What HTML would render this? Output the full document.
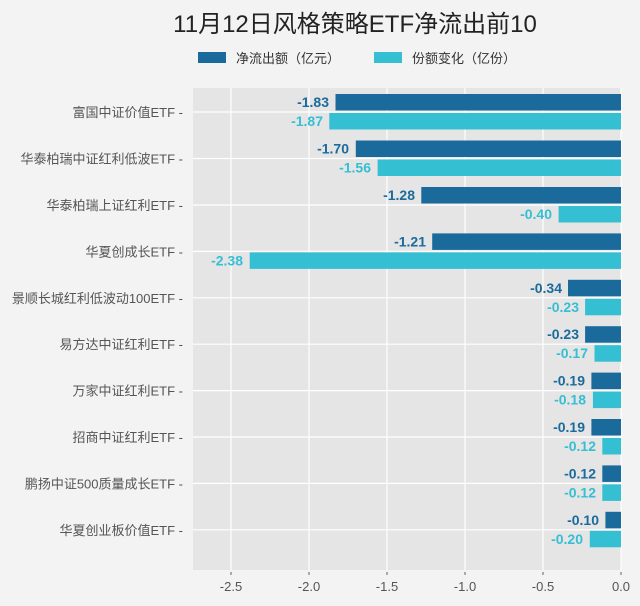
<!DOCTYPE html>
<html><head><meta charset="utf-8"><style>
body{margin:0;background:#f3f3f3;}
svg{display:block;font-family:"Liberation Sans","Noto Sans CJK SC",sans-serif;}
</style></head><body>
<svg width="640" height="606" xmlns="http://www.w3.org/2000/svg">
<rect width="640" height="606" fill="#f3f3f3"/>
<text x="355" y="32" text-anchor="middle" font-size="24" fill="#222">11月12日风格策略ETF净流出前10</text>
<rect x="198" y="52" width="28" height="11" fill="#1b6a9c"/>
<text x="236" y="63" font-size="13" fill="#333">净流出额（亿元）</text>
<rect x="374" y="52" width="28" height="11" fill="#35bfd3"/>
<text x="412" y="63" font-size="13" fill="#333">份额变化（亿份）</text>
<rect x="193" y="88" width="428" height="482" fill="#e5e5e5"/>
<g stroke="#fff" stroke-width="1.2">
<line x1="231" y1="88" x2="231" y2="570"/><line x1="309" y1="88" x2="309" y2="570"/><line x1="387" y1="88" x2="387" y2="570"/><line x1="465" y1="88" x2="465" y2="570"/><line x1="543" y1="88" x2="543" y2="570"/><line x1="621" y1="88" x2="621" y2="570"/>
<line x1="193" y1="112" x2="621" y2="112"/><line x1="193" y1="158.5" x2="621" y2="158.5"/><line x1="193" y1="205" x2="621" y2="205"/><line x1="193" y1="251.4" x2="621" y2="251.4"/><line x1="193" y1="297.8" x2="621" y2="297.8"/><line x1="193" y1="344.2" x2="621" y2="344.2"/><line x1="193" y1="390.6" x2="621" y2="390.6"/><line x1="193" y1="437" x2="621" y2="437"/><line x1="193" y1="483.4" x2="621" y2="483.4"/><line x1="193" y1="529.8" x2="621" y2="529.8"/>
</g>
<g stroke="#666" stroke-width="1">
<line x1="231" y1="572" x2="231" y2="575"/><line x1="309" y1="572" x2="309" y2="575"/><line x1="387" y1="572" x2="387" y2="575"/><line x1="465" y1="572" x2="465" y2="575"/><line x1="543" y1="572" x2="543" y2="575"/><line x1="621" y1="572" x2="621" y2="575"/>
</g>
<g font-size="13" fill="#555" text-anchor="middle">
<text x="231" y="591">-2.5</text><text x="309" y="591">-2.0</text><text x="387" y="591">-1.5</text><text x="465" y="591">-1.0</text><text x="543" y="591">-0.5</text><text x="621" y="591">0.0</text>
</g>
<g font-size="13" fill="#555" text-anchor="end">
<text x="183" y="117">富国中证价值ETF -</text>
<text x="183" y="163.5">华泰柏瑞中证红利低波ETF -</text>
<text x="183" y="210">华泰柏瑞上证红利ETF -</text>
<text x="183" y="256.4">华夏创成长ETF -</text>
<text x="183" y="302.8">景顺长城红利低波动100ETF -</text>
<text x="183" y="349.2">易方达中证红利ETF -</text>
<text x="183" y="395.6">万家中证红利ETF -</text>
<text x="183" y="442">招商中证红利ETF -</text>
<text x="183" y="488.4">鹏扬中证500质量成长ETF -</text>
<text x="183" y="534.8">华夏创业板价值ETF -</text>
</g>
<g fill="#1b6a9c">
<rect x="335.5" y="94" width="285.5" height="16.5"/>
<rect x="355.8" y="140.5" width="265.2" height="16.5"/>
<rect x="421.3" y="187" width="199.7" height="16.5"/>
<rect x="432.2" y="233.4" width="188.8" height="16.5"/>
<rect x="568" y="279.8" width="53" height="16.5"/>
<rect x="585.1" y="326.2" width="35.9" height="16.5"/>
<rect x="591.4" y="372.6" width="29.6" height="16.5"/>
<rect x="591.4" y="419" width="29.6" height="16.5"/>
<rect x="602.3" y="465.4" width="18.7" height="16.5"/>
<rect x="605.4" y="511.8" width="15.6" height="16.5"/>
</g>
<g fill="#35bfd3">
<rect x="329.3" y="113" width="291.7" height="16.5"/>
<rect x="377.6" y="159.5" width="243.4" height="16.5"/>
<rect x="558.6" y="206" width="62.4" height="16.5"/>
<rect x="249.7" y="252.4" width="371.3" height="16.5"/>
<rect x="585.1" y="298.8" width="35.9" height="16.5"/>
<rect x="594.5" y="345.2" width="26.5" height="16.5"/>
<rect x="592.9" y="391.6" width="28.1" height="16.5"/>
<rect x="602.3" y="438" width="18.7" height="16.5"/>
<rect x="602.3" y="484.4" width="18.7" height="16.5"/>
<rect x="589.8" y="530.8" width="31.2" height="16.5"/>
</g>
<g font-size="14" font-weight="bold" fill="#1b6a9c" text-anchor="end">
<text x="329" y="107">-1.83</text><text x="349" y="153.5">-1.70</text><text x="415" y="200">-1.28</text><text x="426" y="246.4">-1.21</text><text x="562" y="292.8">-0.34</text><text x="579" y="339.2">-0.23</text><text x="585" y="385.6">-0.19</text><text x="585" y="432">-0.19</text><text x="596" y="478.4">-0.12</text><text x="599" y="524.8">-0.10</text>
</g>
<g font-size="14" font-weight="bold" fill="#35bfd3" text-anchor="end">
<text x="323" y="126">-1.87</text><text x="371" y="172.5">-1.56</text><text x="552" y="219">-0.40</text><text x="243" y="265.4">-2.38</text><text x="579" y="311.8">-0.23</text><text x="588" y="358.2">-0.17</text><text x="586" y="404.6">-0.18</text><text x="596" y="451">-0.12</text><text x="596" y="497.4">-0.12</text><text x="583" y="543.8">-0.20</text>
</g>
</svg>
</body></html>
